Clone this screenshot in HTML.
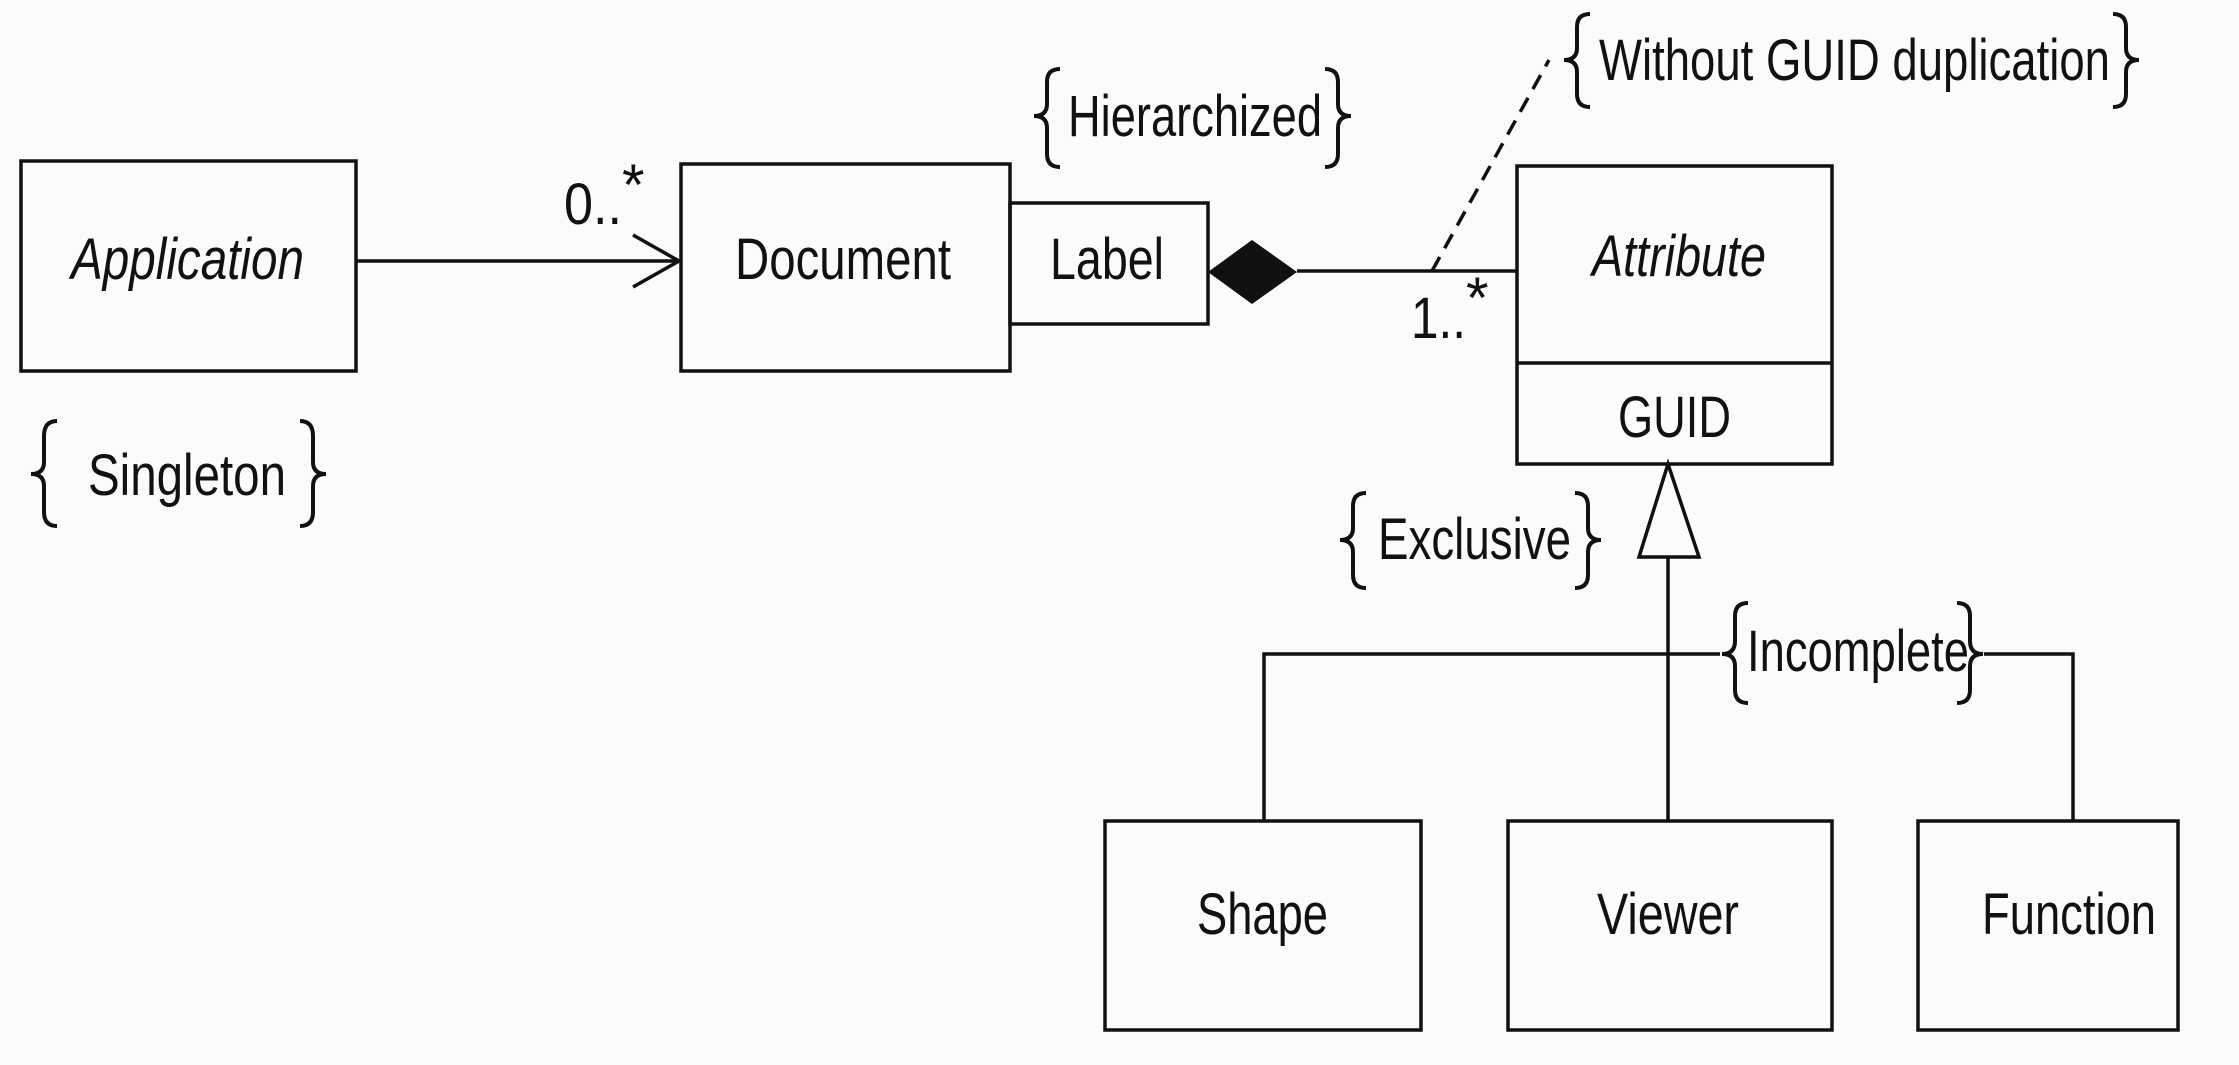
<!DOCTYPE html>
<html><head><meta charset="utf-8"><style>
html,body{margin:0;padding:0;background:#fbfbf9;}
svg{display:block}
text{font-family:"Liberation Sans Narrow","Liberation Sans",sans-serif;font-size:58px;fill:#111;}
</style></head><body>
<svg width="2239" height="1065" viewBox="0 0 2239 1065" xmlns="http://www.w3.org/2000/svg">
<g fill="none" stroke="#111" stroke-width="3.5">
<rect x="21" y="161" width="335" height="210"/>
<rect x="681" y="164" width="329" height="207"/>
<rect x="1010" y="203" width="198" height="121"/>
<rect x="1517" y="166" width="315" height="298"/>
<line x1="1517" y1="363" x2="1832" y2="363"/>
<rect x="1105" y="821" width="316" height="209"/>
<rect x="1508" y="821" width="324" height="209"/>
<rect x="1918" y="821" width="260" height="209"/>
<line x1="356" y1="261" x2="679" y2="261"/>
<polyline points="633,235 679,261 633,287"/>
<line x1="1297" y1="271" x2="1517" y2="271"/>
<line x1="1432" y1="271" x2="1549" y2="60" stroke-dasharray="16,10"/>
<polygon points="1668,464 1639,557 1699,557"/>
<line x1="1668" y1="557" x2="1668" y2="821"/>
<polyline points="1264,821 1264,654 1720,654"/>
<polyline points="1984,654 2073,654 2073,821"/>
</g>
<g fill="none" stroke="#111" stroke-width="4">
<path d="M57,421 Q44,421 44,436 L44,462 Q44,474 31,474 Q44,474 44,486 L44,512 Q44,526 57,526"/>
<path d="M300,421 Q313,421 313,436 L313,462 Q313,474 326,474 Q313,474 313,486 L313,512 Q313,526 300,526"/>
<path d="M1060,69 Q1047,69 1047,82 L1047,104 Q1047,116 1034,116 Q1047,116 1047,128 L1047,154 Q1047,167 1060,167"/>
<path d="M1325,69 Q1338,69 1338,82 L1338,104 Q1338,116 1351,116 Q1338,116 1338,128 L1338,154 Q1338,167 1325,167"/>
<path d="M1590,14 Q1577,14 1577,27 L1577,48 Q1577,60 1564,60 Q1577,60 1577,72 L1577,94 Q1577,107 1590,107"/>
<path d="M2113,14 Q2126,14 2126,27 L2126,48 Q2126,60 2139,60 Q2126,60 2126,72 L2126,94 Q2126,107 2113,107"/>
<path d="M1366,493 Q1353,493 1353,506 L1353,528 Q1353,540 1340,540 Q1353,540 1353,552 L1353,575 Q1353,588 1366,588"/>
<path d="M1575,493 Q1588,493 1588,506 L1588,528 Q1588,540 1601,540 Q1588,540 1588,552 L1588,575 Q1588,588 1575,588"/>
<path d="M1748,603 Q1735,603 1735,616 L1735,641 Q1735,654 1722,654 Q1735,654 1735,666 L1735,690 Q1735,703 1748,703"/>
<path d="M1957,603 Q1970,603 1970,616 L1970,641 Q1970,654 1983,654 Q1970,654 1970,666 L1970,690 Q1970,703 1957,703"/>
</g>
<polygon points="1208,272 1252,240 1297,272 1252,304" fill="#111"/>
<g lengthAdjust="spacingAndGlyphs">
<text x="71" y="279" font-style="italic" textLength="233" lengthAdjust="spacingAndGlyphs">Application</text>
<text x="735" y="279" textLength="216" lengthAdjust="spacingAndGlyphs">Document</text>
<text x="1050" y="279" textLength="114" lengthAdjust="spacingAndGlyphs">Label</text>
<text x="1592" y="276" font-style="italic" textLength="174" lengthAdjust="spacingAndGlyphs">Attribute</text>
<text x="1618" y="437" textLength="113" lengthAdjust="spacingAndGlyphs">GUID</text>
<text x="1197" y="934" textLength="131" lengthAdjust="spacingAndGlyphs">Shape</text>
<text x="1597" y="934" textLength="142" lengthAdjust="spacingAndGlyphs">Viewer</text>
<text x="1982" y="934" textLength="174" lengthAdjust="spacingAndGlyphs">Function</text>
</g>
<text x="564" y="224" font-size="60" textLength="58" lengthAdjust="spacingAndGlyphs">0..</text><text x="622" y="205" font-size="42">*</text>
<text x="1411" y="338" font-size="60" textLength="55" lengthAdjust="spacingAndGlyphs">1..</text><text x="1466" y="318" font-size="42">*</text>
<text x="88" y="495" textLength="198" lengthAdjust="spacingAndGlyphs">Singleton</text>
<text x="1068" y="136" textLength="254" lengthAdjust="spacingAndGlyphs">Hierarchized</text>
<text x="1599" y="80" textLength="511" lengthAdjust="spacingAndGlyphs">Without GUID duplication</text>
<text x="1378" y="559" textLength="193" lengthAdjust="spacingAndGlyphs">Exclusive</text>
<text x="1747" y="671" textLength="222" lengthAdjust="spacingAndGlyphs">Incomplete</text>
</svg>
</body></html>
